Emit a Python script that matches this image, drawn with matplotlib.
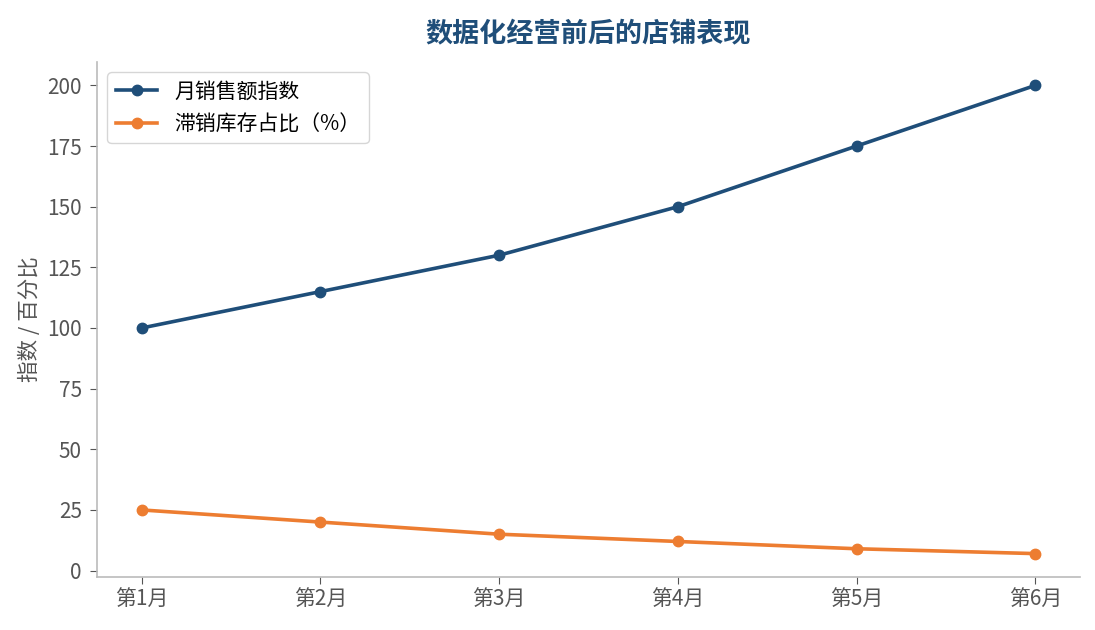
import matplotlib
matplotlib.use("Agg")
import matplotlib.pyplot as plt

plt.rcParams['font.family'] = ['Noto Sans CJK SC', 'DejaVu Sans']

months = ["第1月", "第2月", "第3月", "第4月", "第5月", "第6月"]
sales_index = [100, 115, 130, 150, 175, 200]
slow_stock = [25, 20, 15, 12, 9, 7]

fig = plt.figure(figsize=(10.95, 6.3), dpi=100)
ax = fig.add_axes([0.0886, 0.0841, 0.8977, 0.8175])

x = list(range(len(months)))
ax.plot(x, sales_index, color="#1f4e79", lw=2.6, marker="o", ms=7.5, label="月销售额指数")
ax.plot(x, slow_stock, color="#ed7d31", lw=2.6, marker="o", ms=7.5, label="滞销库存占比（%）")

ax.set_xticks(x)
ax.set_xticklabels(months)
ax.set_yticks([0, 25, 50, 75, 100, 125, 150, 175, 200])
ax.tick_params(colors="#555555", labelsize=15, length=5)
ax.tick_params(axis="y", pad=6)
for s in ["top", "right"]:
    ax.spines[s].set_visible(False)
for s in ["left", "bottom"]:
    ax.spines[s].set_color("#bbbbbb")
    ax.spines[s].set_linewidth(1.2)

ax.set_ylabel("指数 / 百分比", fontsize=15.5, color="#555555")
ax.set_title("数据化经营前后的店铺表现", fontsize=19.5, fontweight="bold", color="#1f4e79", pad=14)
leg = ax.legend(loc="upper left", fontsize=15, frameon=True)
leg.get_frame().set_edgecolor("#cccccc")

fig.savefig("out.png", dpi=100)
